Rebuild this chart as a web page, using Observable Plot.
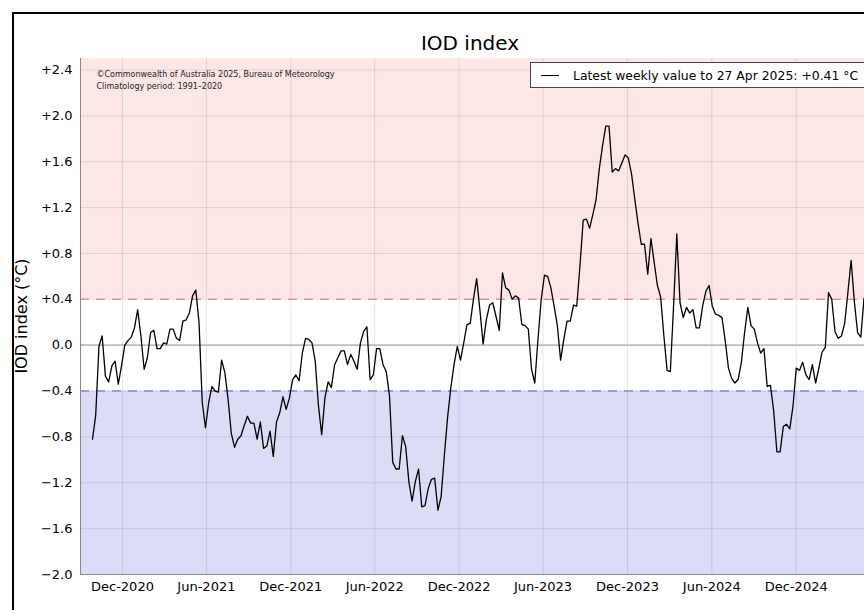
<!DOCTYPE html>
<html>
<head>
<meta charset="utf-8">
<script src="https://cdn.jsdelivr.net/npm/d3@7"></script>
<script src="https://cdn.jsdelivr.net/npm/@observablehq/plot@0.6"></script>
<style>
  html, body { margin: 0; padding: 0; background: #fff; overflow: hidden; }
  #wrap { position: relative; width: 864px; height: 610px; overflow: hidden; font-family: "DejaVu Sans", sans-serif; background: #fff; }
  #border { position: absolute; left: 12px; top: 12px; width: 1000px; height: 700px; border: 2px solid #000; box-sizing: border-box; pointer-events: none; }
  #title { position: absolute; top: 31px; left: 0; width: 940px; text-align: center; font-size: 20px; line-height: 24px; color: #000; }
  #ylabel { position: absolute; left: 22px; top: 316px; transform: translate(-50%, -50%) rotate(-90deg); font-size: 16px; line-height: 18px; white-space: nowrap; color: #000; }
  #chart { position: absolute; left: 0; top: 0; }
  #legend { position: absolute; left: 530px; top: 62px; width: 400px; height: 26px; box-sizing: border-box; border: 1px solid #444; background: #fff; font-size: 12.4px; color: #000; }
  #legend .swatch { position: absolute; left: 10px; top: 12px; width: 18px; height: 0; border-top: 1.3px solid #000; }
  #legend .txt { position: absolute; left: 42px; top: 5px; white-space: nowrap; }
</style>
</head>
<body>
<div id="wrap">
  <div id="chart"></div>
  <div id="title">IOD index</div>
  <div id="ylabel">IOD index (°C)</div>
  <div id="legend"><div class="swatch"></div><div class="txt"></div></div>
  <div id="border"></div>
</div>
<script>
// Weekly IOD index values (week ending Sunday), first week ending 27 Sep 2020
const firstWeek = "2020-09-27";
const iod2020 = [-0.82,-0.61,-0.01,0.08,-0.27,-0.32,-0.18,-0.14,-0.34,-0.18,0.00,0.04,0.07,0.15];
const iod2021 = [0.31,0.08,-0.21,-0.11,0.11,0.13,-0.03,-0.03,0.02,0.01,0.14,0.14,0.06,0.04,0.21,0.22,0.28,0.43,0.48,0.20,-0.50,-0.72,-0.50,-0.36,-0.40,
                 -0.41,-0.13,-0.24,-0.47,-0.77,-0.89,-0.82,-0.79,-0.70,-0.62,-0.68,-0.68,-0.82,-0.67,-0.90,-0.88,-0.75,-0.97,-0.67,-0.59,-0.45,-0.56,-0.46,-0.30,-0.26,-0.31,-0.07];
const iod2022 = [0.06,0.05,0.02,-0.14,-0.53,-0.78,-0.46,-0.32,-0.37,-0.17,-0.11,-0.05,-0.05,
                 -0.17,-0.08,-0.14,-0.21,0.02,0.12,0.16,-0.30,-0.26,-0.03,-0.03,-0.17,-0.23,-0.44,-1.02,-1.08,-1.08,-0.79,-0.88,-1.19,-1.36,-1.19,-1.08,-1.41,-1.40,-1.25,-1.17,-1.16,-1.44,-1.32,-0.96,-0.63,-0.37,-0.17,-0.01,-0.13,0.02,0.18,0.19];
const iod2023 = [0.40,0.58,0.31,0.01,0.22,0.35,0.37,0.25,0.13,0.63,0.50,0.48,0.40,0.43,0.41,0.18,0.17,0.14,-0.21,-0.33,0.05,0.40,0.61,0.60,0.50,0.34,0.17,-0.13,0.05,0.21,0.21,0.35,0.34,0.69,1.09,1.10,1.02,1.14,1.27,
                 1.54,1.74,1.91,1.91,1.51,1.54,1.52,1.59,1.66,1.63,1.49,1.27,1.06,0.88];
const iod2024 = [0.88,0.62,0.93,0.72,0.52,0.42,0.08,-0.22,-0.23,0.34,0.97,0.37,0.24,0.33,0.28,0.31,0.15,0.15,0.34,0.47,0.52,0.34,0.27,0.26,0.24,0.04,
                 -0.20,-0.29,-0.33,-0.30,-0.15,0.11,0.33,0.17,0.14,0.02,-0.07,-0.03,-0.36,-0.35,-0.57,-0.93,-0.93,-0.71,-0.69,-0.73,-0.53,-0.20,-0.22,-0.15,-0.26,-0.30];
const iod2025 = [-0.17,-0.33,-0.20,-0.06,-0.02,0.46,0.40,0.12,0.06,0.08,0.19,0.46,0.74,0.38,0.11,0.07,0.41];

// Axis ticks and thresholds
const xTickLabels = ["2020-12-01","2021-06-01","2021-12-01","2022-06-01","2022-12-01","2023-06-01","2023-12-01","2024-06-01","2024-12-01"];
const yTicks = [-2.0,-1.6,-1.2,-0.8,-0.4,0.0,0.4,0.8,1.2,1.6,2.0,2.4];
const xDomainDates = ["2020-09-01","2025-04-28"];
const yDomain = [-2.0, 2.5];
const positiveThreshold = 0.4;
const negativeThreshold = -0.4;
const copyrightLines = ["©Commonwealth of Australia 2025, Bureau of Meteorology", "Climatology period: 1991–2020"];

const allValues = [].concat(iod2020, iod2021, iod2022, iod2023, iod2024, iod2025);
const start = new Date(firstWeek + "T00:00:00Z");
const data = allValues.map((v, i) => ({date: d3.utcDay.offset(start, 7 * i), value: v}));
const tickDates = xTickLabels.map(s => new Date(s + "T00:00:00Z"));
const xDomain = xDomainDates.map(s => new Date(s + "T00:00:00Z"));
const bands = [
  {lo: positiveThreshold, hi: yDomain[1], color: "#fde6e6"},
  {lo: yDomain[0], hi: negativeThreshold, color: "#dcdcf9"}
];
const fmtY = v => v === 0 ? "0.0" : (v > 0 ? "+" : "\u2212") + Math.abs(v).toFixed(1);

const chart = Plot.plot({
  width: 864,
  height: 610,
  marginLeft: 80,
  marginRight: 0,
  marginTop: 58,
  marginBottom: 36,
  style: {fontFamily: "DejaVu Sans, sans-serif", fontSize: "13px", background: "transparent", color: "#000"},
  x: {type: "utc", domain: xDomain, ticks: tickDates, tickFormat: d3.utcFormat("%b-%Y"), tickSize: -4, tickPadding: 11, label: null},
  y: {domain: yDomain, ticks: yTicks, tickFormat: fmtY, tickSize: -4, tickPadding: 12, label: null},
  marks: [
    Plot.rect(bands, {y1: "lo", y2: "hi", fill: "color"}),
    Plot.ruleX(tickDates, {stroke: "#000", strokeOpacity: 0.1}),
    Plot.ruleY(yTicks.filter(t => t !== 0), {stroke: "#000", strokeOpacity: 0.1}),
    Plot.ruleY([0], {stroke: "#bdbdbd", strokeWidth: 1.6}),
    Plot.ruleY([positiveThreshold], {stroke: "#e8909a", strokeWidth: 1.5, strokeDasharray: "9,7"}),
    Plot.ruleY([negativeThreshold], {stroke: "#8c8cc2", strokeWidth: 1.5, strokeDasharray: "9,7"}),
    Plot.ruleX([xDomain[0]], {stroke: "#888", strokeWidth: 1}),
    Plot.ruleY([yDomain[0]], {stroke: "#888", strokeWidth: 1}),
    Plot.line(data, {x: "date", y: "value", stroke: "#000", strokeWidth: 1.3}),
    Plot.text([copyrightLines.join("\n")], {frameAnchor: "top-left", dx: 16, dy: 9, fontSize: 8, lineHeight: 1.6, textAnchor: "start", fill: "#222"})
  ]
});
document.getElementById("chart").appendChild(chart);

const last = data[data.length - 1];
document.querySelector("#legend .txt").textContent =
  "Latest weekly value to " + d3.utcFormat("%-d %b %Y")(last.date) + ": " + (last.value >= 0 ? "+" : "\u2212") + Math.abs(last.value).toFixed(2) + " °C";
</script>
</body>
</html>
